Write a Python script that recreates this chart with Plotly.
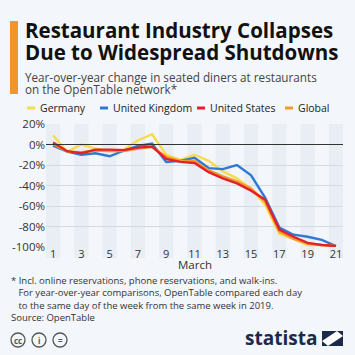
import plotly.graph_objects as go

days = list(range(1, 22))
germany = [9, -7, 0, -4, -6, -5, 4, 10, -10, -15, -10, -16, -26, -33, -43, -59, -87, -92, -98, -98, -99]
uk = [-1, -7, -10, -8.5, -11.5, -6, -1.5, 1, -17, -16, -13, -23, -24, -20, -30, -52, -81, -88, -90, -93, -99]
us = [2, -6.5, -8.5, -5, -5, -5.5, -3, -2, -14, -17, -18, -27, -33, -38, -45, -54, -83, -90, -96, -98, -99]
global_ = [0.5, -7, -7.5, -6, -6.5, -6.5, -4, -2.5, -12, -16, -16, -25, -31, -36, -43, -56, -85, -92, -97, -98, -99]

series_names = ["Germany", "United Kingdom", "United States", "Global"]
series_values = [germany, uk, us, global_]
colors = ["#f7dc4e", "#2f78d4", "#e4202b", "#f09a2e"]
draw_order = [0, 1, 3, 2]

y_ticks = [20, 0, -20, -40, -60, -80, -100]
y_tick_labels = ["20%", "0%", "-20%", "-40%", "-60%", "-80%", "-100%"]
x_ticks = list(range(1, 22, 2))
x_title = "March"

title_lines = ["Restaurant Industry Collapses", "Due to Widespread Shutdowns"]
subtitle_lines = ["Year-over-year change in seated diners at restaurants", "on the OpenTable network*"]
footnotes = [
    "* Incl. online reservations, phone reservations, and walk-ins.",
    "   For year-over-year comparisons, OpenTable compared each day",
    "   to the same day of the week from the same week in 2019.",
    "Source: OpenTable",
]

W, H = 355, 355
L, R, T, B = 46, 343, 124, 247
BG = "#f3f6fa"


def px(x):
    return (x - L) / (R - L)


def py(y):
    return (B - y) / (B - T)


fig = go.Figure()
for i in draw_order:
    fig.add_trace(go.Scatter(
        x=days, y=series_values[i], mode="lines", name=series_names[i],
        line=dict(color=colors[i], width=2.4), showlegend=False,
        hoverinfo="skip",
    ))

shapes = []
# alternating day bands
for d in x_ticks:
    shapes.append(dict(type="rect", xref="x", yref="paper", x0=d - 0.5, x1=d + 0.5,
                       y0=py(258), y1=1, fillcolor="#e9eef4", line=dict(width=0), layer="below"))
# zero line
shapes.append(dict(type="line", xref="paper", yref="y", x0=0, x1=1, y0=0, y1=0,
                   line=dict(color="#333333", width=1)))
# orange title bar
shapes.append(dict(type="rect", xref="paper", yref="paper", x0=px(10), x1=px(18),
                   y0=py(94), y1=py(21), fillcolor="#f0962f", line=dict(width=0)))

annotations = []
# title
for k, t in enumerate(title_lines):
    annotations.append(dict(text="<b>" + t + "</b>", x=px(23), y=py(30 + 21.5 * k), xref="paper", yref="paper",
                            xanchor="left", yanchor="middle", showarrow=False,
                            font=dict(family="Open Sans", size=20.5, color="#111111")))
for k, t in enumerate(subtitle_lines):
    annotations.append(dict(text=t, x=px(23), y=py(77 + 11.5 * k), xref="paper", yref="paper",
                            xanchor="left", yanchor="middle", showarrow=False,
                            font=dict(family="Open Sans", size=11.7, color="#444444")))
# legend
legend_x = [27, 100, 197, 285]
for i, name in enumerate(series_names):
    shapes.append(dict(type="line", xref="paper", yref="paper", x0=px(legend_x[i]), x1=px(legend_x[i] + 8),
                       y0=py(108), y1=py(108), line=dict(color=colors[i], width=3)))
    annotations.append(dict(text=name, x=px(legend_x[i] + 11), y=py(108), xref="paper", yref="paper",
                            xanchor="left", yanchor="middle", showarrow=False,
                            font=dict(family="Open Sans", size=10.5, color="#222222")))
# x title
annotations.append(dict(text=x_title, x=11, y=py(264.5), xref="x", yref="paper",
                        xanchor="center", yanchor="middle", showarrow=False,
                        font=dict(family="Open Sans", size=11.5, color="#333333")))
# footnotes
for k, t in enumerate(footnotes):
    annotations.append(dict(text=t, x=px(9), y=py(280 + 12.5 * k), xref="paper", yref="paper",
                            xanchor="left", yanchor="middle", showarrow=False,
                            font=dict(family="Open Sans", size=9.5, color="#333333")))
# statista logo
annotations.append(dict(text="<b>statista</b>", x=px(319), y=py(338), xref="paper", yref="paper",
                        xanchor="right", yanchor="middle", showarrow=False,
                        font=dict(family="Open Sans", size=19, color="#1b2a48")))
shapes.append(dict(type="path", xref="paper", yref="paper",
                   path="M {a},{b} L {c},{b} L {c},{d} L {a},{d} Z".format(
                       a=px(322), b=py(331), c=px(343), d=py(346)),
                   fillcolor="#1b2a48", line=dict(width=0)))
shapes.append(dict(type="path", xref="paper", yref="paper",
                   path="M {a},{b} L {c},{d} L {e},{f} L {g},{h} Z".format(
                       a=px(322), b=py(341), c=px(337), d=py(331), e=px(343), f=py(336), g=px(328), h=py(346)),
                   fillcolor="#ffffff", line=dict(width=0)))
# cc icons
for k, sym in enumerate(["cc", "i", "="]):
    cx = 18 + 21 * k
    shapes.append(dict(type="circle", xref="paper", yref="paper", x0=px(cx - 7), x1=px(cx + 7),
                       y0=py(347), y1=py(333), line=dict(color="#555555", width=1.3)))
    annotations.append(dict(text="<b>" + sym + "</b>", x=px(cx), y=py(340), xref="paper", yref="paper",
                            xanchor="center", yanchor="middle", showarrow=False,
                            font=dict(family="Open Sans", size=8, color="#555555")))

fig.update_layout(
    width=W, height=H,
    margin=dict(l=L, r=W - R, t=T, b=H - B, pad=0, autoexpand=False),
    paper_bgcolor=BG, plot_bgcolor="rgba(0,0,0,0)",
    font=dict(family="Open Sans", size=11, color="#333333"),
    shapes=shapes, annotations=annotations, showlegend=False,
    xaxis=dict(range=[0.5, 21.5], tickmode="array", tickvals=x_ticks, ticktext=[str(v) for v in x_ticks],
               showgrid=False, zeroline=False, showline=False, ticks="", automargin=False,
               ticklabelstandoff=-1,
               tickfont=dict(size=11, color="#333333"), fixedrange=True),
    yaxis=dict(range=[-100, 20], tickmode="array", tickvals=y_ticks, ticktext=y_tick_labels,
               showgrid=True, gridcolor="#d3dae2", gridwidth=1, zeroline=False, showline=False, ticks="",
               automargin=False, tickfont=dict(size=11.5, color="#333333"), fixedrange=True),
)

fig.write_html("out.html", config={"displayModeBar": False},
               post_script="document.body.style.margin='0';document.body.style.background='%s';" % BG)
